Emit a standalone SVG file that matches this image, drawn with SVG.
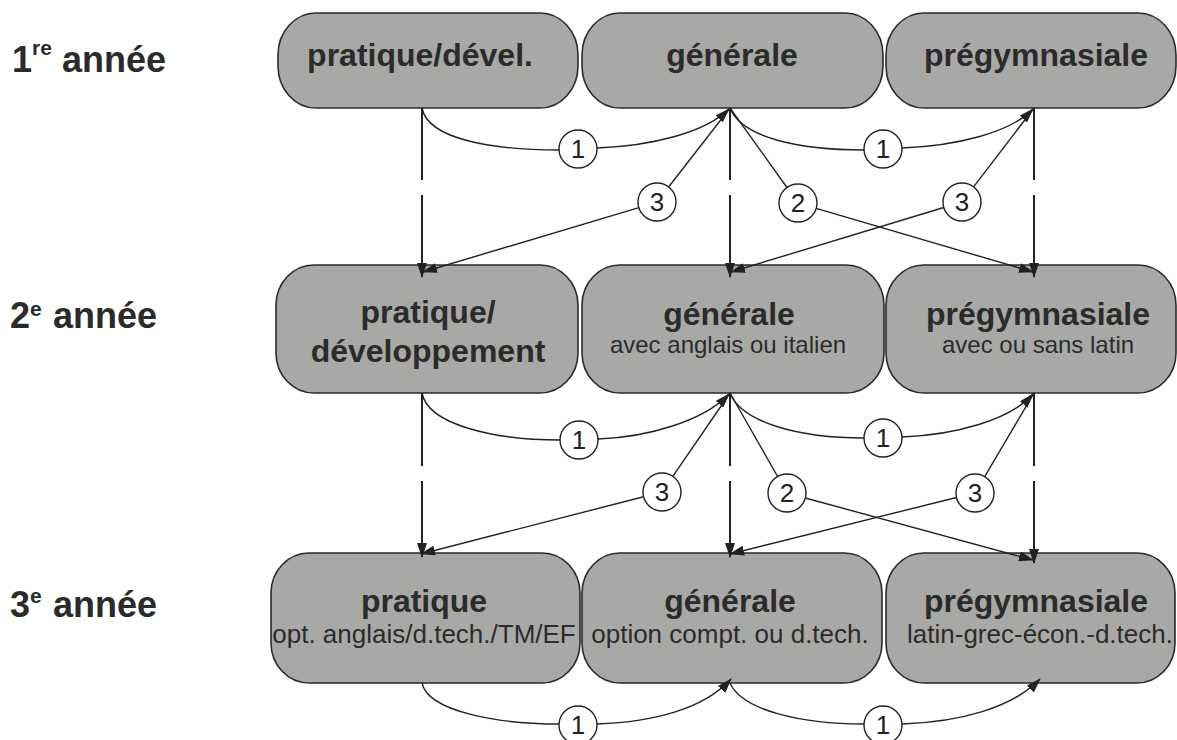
<svg xmlns="http://www.w3.org/2000/svg" width="1177" height="740" viewBox="0 0 1177 740">
<defs>
<marker id="ah" markerUnits="userSpaceOnUse" markerWidth="15" markerHeight="10" refX="14" refY="5" orient="auto">
<path d="M0,0 L15,5 L0,10 Z" fill="#222"/>
</marker>
</defs>
<style>
.box{fill:#a8a9a7;stroke:#2a2a2a;stroke-width:1.6}
.title{font-family:"Liberation Sans",Arial,sans-serif;font-weight:bold;font-size:32px;fill:#2b2b2b;text-anchor:middle}
.sub{font-family:"Liberation Sans",Arial,sans-serif;font-size:24px;fill:#2b2b2b;text-anchor:middle}
.sub3{font-family:"Liberation Sans",Arial,sans-serif;font-size:26px;fill:#2b2b2b;text-anchor:middle}
.year{font-family:"Liberation Sans",Arial,sans-serif;font-weight:bold;font-size:36px;fill:#2b2b2b}
.ln{fill:none;stroke:#222;stroke-width:1.4}
.vl{fill:none;stroke:#222;stroke-width:2}
.arr{marker-end:url(#ah)}
.cir{fill:#fff;stroke:#222;stroke-width:1.4}
.num{font-family:"Liberation Sans",Arial,sans-serif;font-size:26px;fill:#222;text-anchor:middle}
</style>
<rect width="1177" height="740" fill="#fff"/>

<g id="labels">
<text class="year" x="12" y="72">1<tspan font-size="21" dy="-17">re</tspan><tspan x="62" dy="17">année</tspan></text>
<text class="year" x="10" y="328">2<tspan font-size="21" dy="-12">e</tspan><tspan x="53" dy="12">année</tspan></text>
<text class="year" x="10" y="617">3<tspan font-size="21" dy="-14">e</tspan><tspan x="53" dy="14">année</tspan></text>
</g>

<g id="r1-pratique">
<rect class="box" x="278" y="13" width="300" height="95" rx="38" ry="42"/>
<text class="title" x="420" y="66">pratique/dével.</text>
</g>
<g id="r1-generale">
<rect class="box" x="582" y="13" width="301" height="95" rx="38" ry="42"/>
<text class="title" x="732" y="66">générale</text>
</g>
<g id="r1-pregym">
<rect class="box" x="886" y="13" width="290" height="95" rx="38" ry="42"/>
<text class="title" x="1036" y="66">prégymnasiale</text>
</g>

<g id="r2-pratique">
<rect class="box" x="276" y="265" width="302" height="128" rx="38" ry="40"/>
<text class="title" x="428" y="323">pratique/</text>
<text class="title" x="428" y="362">développement</text>
</g>
<g id="r2-generale">
<rect class="box" x="582" y="265" width="302" height="128" rx="38" ry="40"/>
<text class="title" x="729" y="325">générale</text>
<text class="sub" x="728" y="353">avec anglais ou italien</text>
</g>
<g id="r2-pregym">
<rect class="box" x="886" y="265" width="290" height="128" rx="38" ry="40"/>
<text class="title" x="1038" y="325">prégymnasiale</text>
<text class="sub" x="1038" y="353">avec ou sans latin</text>
</g>

<g id="r3-pratique">
<rect class="box" x="271" y="553" width="309" height="130" rx="38" ry="40"/>
<text class="title" x="424" y="612">pratique</text>
<text class="sub3" x="424" y="643">opt. anglais/d.tech./TM/EF</text>
</g>
<g id="r3-generale">
<rect class="box" x="582" y="553" width="300" height="130" rx="38" ry="40"/>
<text class="title" x="730" y="612">générale</text>
<text class="sub3" x="730" y="643">option compt. ou d.tech.</text>
</g>
<g id="r3-pregym">
<rect class="box" x="886" y="553" width="289" height="130" rx="38" ry="40"/>
<text class="title" x="1036" y="612">prégymnasiale</text>
<text class="sub3" x="1040" y="643">latin-grec-écon.-d.tech.</text>
</g>

<g id="connectors">
<path class="vl" d="M422,108 V180 M730,108 V180 M1034,108 V180"/>
<path class="vl arr" d="M422,195 V277"/>
<path class="vl arr" d="M730,195 V277"/>
<path class="vl arr" d="M1034,195 V277"/>
<path class="ln" d="M422,108 C428,140 495,150 559,150"/>
<path class="ln arr" d="M597,148 C650,146 705,133 729,109"/>
<path class="ln" d="M730,108 C742,138 800,150 864,150"/>
<path class="ln arr" d="M902,148 C955,146 1010,133 1033,109"/>
<path class="ln" d="M730,108 L668.6,187"/>
<path class="ln arr" d="M638.9,207.7 L423,272"/>
<path class="ln" d="M730,108 L787,187.5"/>
<path class="ln arr" d="M816.2,208.3 L1033,272"/>
<path class="ln" d="M1034,108 L973.6,186.9"/>
<path class="ln arr" d="M943.8,207.5 L731,272"/>
<path class="vl" d="M422,393 V466 M730,393 V466 M1034,393 V466"/>
<path class="vl arr" d="M422,481 V557"/>
<path class="vl arr" d="M730,481 V557"/>
<path class="vl arr" d="M1034,481 V563"/>
<path class="ln" d="M422,393 C428,425 495,440 560,440"/>
<path class="ln arr" d="M598,439 C650,437 705,420 729,394"/>
<path class="ln" d="M730,393 C742,423 800,438 864,438"/>
<path class="ln arr" d="M902,437 C955,435 1010,420 1033,394"/>
<path class="ln" d="M730,393 L672.8,476.3"/>
<path class="ln arr" d="M643.6,496.7 L421,554"/>
<path class="ln" d="M730,393 L777.6,476.5"/>
<path class="ln arr" d="M805.3,498 L1033,560"/>
<path class="ln" d="M1034,393 L984.7,476.6"/>
<path class="ln arr" d="M956.5,497.5 L730,554"/>
<path class="ln" d="M422,683 C428,712 500,724 559,724"/>
<path class="ln arr" d="M597,724 C655,722 705,708 731,679"/>
<path class="ln" d="M730,683 C742,710 800,724 864,724"/>
<path class="ln arr" d="M902,724 C960,722 1012,708 1040,679"/>
</g>

<g id="badges">
<circle class="cir" cx="578" cy="149" r="19"/><text class="num" x="578" y="158">1</text>
<circle class="cir" cx="883" cy="149" r="19"/><text class="num" x="883" y="158">1</text>
<circle class="cir" cx="657" cy="202" r="19"/><text class="num" x="657" y="211">3</text>
<circle class="cir" cx="798" cy="203" r="19"/><text class="num" x="798" y="212">2</text>
<circle class="cir" cx="962" cy="202" r="19"/><text class="num" x="962" y="211">3</text>
<circle class="cir" cx="579" cy="440" r="19"/><text class="num" x="579" y="449">1</text>
<circle class="cir" cx="883" cy="438" r="19"/><text class="num" x="883" y="447">1</text>
<circle class="cir" cx="662" cy="492" r="19"/><text class="num" x="662" y="501">3</text>
<circle class="cir" cx="787" cy="493" r="19"/><text class="num" x="787" y="502">2</text>
<circle class="cir" cx="975" cy="493" r="19"/><text class="num" x="975" y="502">3</text>
<circle class="cir" cx="578" cy="725" r="19"/><text class="num" x="578" y="734">1</text>
<circle class="cir" cx="883" cy="725" r="19"/><text class="num" x="883" y="734">1</text>
</g>
</svg>
